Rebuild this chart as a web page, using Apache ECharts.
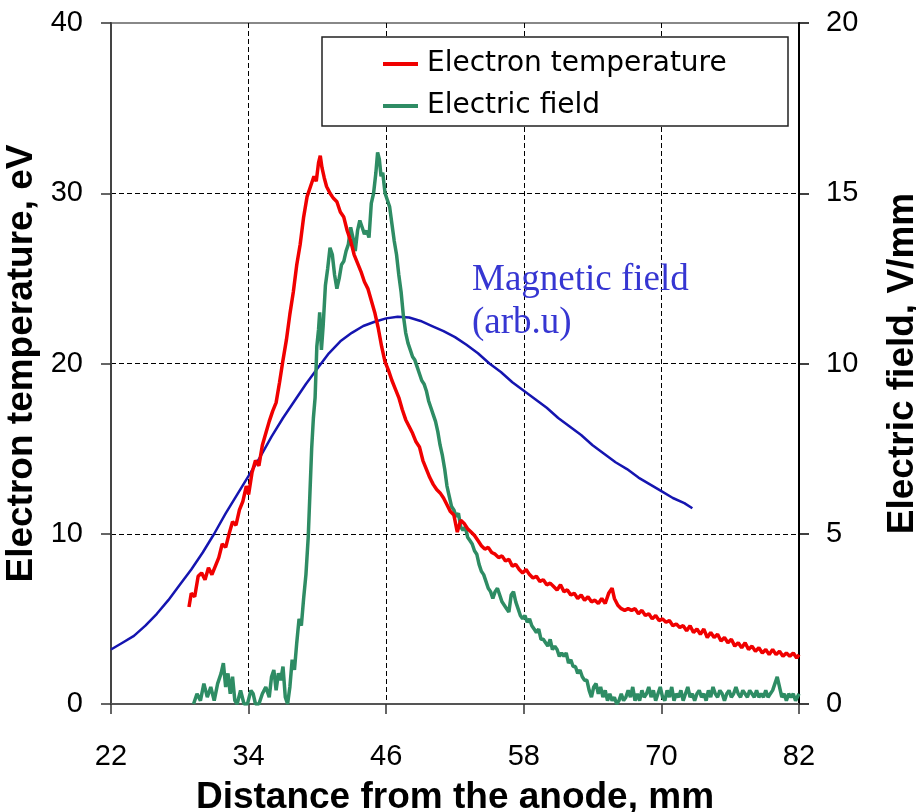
<!DOCTYPE html>
<html>
<head>
<meta charset="utf-8">
<script src="https://cdn.jsdelivr.net/npm/echarts@6/dist/echarts.min.js"></script>
<style>html,body{margin:0;padding:0;background:#fff}#c{width:916px;height:812px}</style>
</head>
<body>
<div id="c"></div>
<script>
// Axis ticks
var xTicks = [22, 34, 46, 58, 70, 82];
var leftTicks = [0, 10, 20, 30, 40];
var rightTicks = [0, 5, 10, 15, 20];

// Electron temperature (eV, left axis)
var tempX = [28.8,29.0,29.3,29.6,29.9,30.2,30.5,30.8,31.1,31.4,31.7,32.0,32.3,32.6,32.9,33.2,33.5,33.8,34.0,34.3,34.6,34.9,35.2,35.5,35.8,36.1,36.4,36.7,37.0,37.3,37.6,37.9,38.2,38.5,38.8,39.1,39.4,39.7,39.9,40.1,40.25,40.4,40.6,40.8,41.1,41.4,41.7,42.0,42.3,42.6,42.9,43.2,43.5,43.8,44.1,44.4,44.7,45.0,45.3,45.6,45.9,46.2,46.5,46.8,47.1,47.4,47.7,48.0,48.3,48.6,48.9,49.2,49.5,49.8,50.1,50.4,50.7,51.0,51.3,51.6,51.9,52.2,52.5,52.8,53.1,53.4,53.7,54.0,54.3,54.6,54.9,55.2,55.5,55.8,56.1,56.4,56.7,57.0,57.3,57.6,57.9,58.2,58.5,58.8,59.1,59.4,59.7,60.0,60.3,60.6,60.9,61.2,61.5,61.8,62.1,62.4,62.7,63.0,63.3,63.6,63.9,64.2,64.5,64.8,65.1,65.4,65.7,65.9,66.2,66.5,66.8,67.1,67.4,67.7,68.0,68.3,68.6,68.9,69.2,69.5,69.8,70.1,70.4,70.7,71.0,71.3,71.6,71.9,72.2,72.5,72.8,73.1,73.4,73.7,74.0,74.3,74.6,74.9,75.2,75.5,75.8,76.1,76.4,76.7,77.0,77.3,77.6,77.9,78.2,78.5,78.8,79.1,79.4,79.7,80.0,80.3,80.6,80.9,81.2,81.5,81.8,82.0];
var tempY = [5.7,6.5,6.3,7.5,7.7,7.3,8.0,7.6,8.1,8.6,9.4,9.2,10.0,10.7,10.5,11.4,11.9,12.8,12.3,13.6,14.3,14.0,15.2,15.9,16.6,17.2,17.7,18.9,20.2,21.4,22.9,24.2,25.8,27.0,28.6,29.8,30.4,31.0,30.7,31.8,32.2,31.5,30.9,30.4,30.0,29.7,29.5,28.9,28.6,27.8,27.2,26.4,25.9,25.4,24.8,24.4,23.7,23.0,22.1,21.0,20.1,19.6,19.0,18.5,18.0,17.3,16.7,16.3,15.9,15.4,15.1,14.3,13.8,13.3,12.9,12.6,12.4,12.1,11.7,11.3,11.1,10.1,10.8,10.6,10.3,10.1,9.9,9.6,9.3,9.1,9.2,8.9,8.8,8.6,8.7,8.4,8.5,8.1,8.2,7.9,7.7,7.9,7.6,7.4,7.5,7.2,7.3,7.0,7.1,6.9,6.7,7.0,6.6,6.7,6.4,6.5,6.2,6.4,6.1,6.3,6.0,6.1,5.9,6.2,5.9,6.5,6.8,6.2,5.8,5.6,5.5,5.6,5.5,5.6,5.3,5.5,5.2,5.3,5.0,5.2,4.9,5.0,4.8,4.9,4.6,4.7,4.5,4.6,4.3,4.6,4.2,4.4,4.1,4.4,3.9,4.2,3.9,4.1,3.7,3.9,3.6,3.8,3.4,3.6,3.3,3.6,3.2,3.4,3.1,3.3,3.0,3.2,2.9,3.2,2.9,3.1,2.8,3.0,2.8,3.0,2.7,2.9];

// Electric field (V/mm, right axis)
var fieldX = [29.2,29.5,29.8,30.1,30.4,30.7,31.0,31.3,31.6,31.8,32.0,32.2,32.4,32.6,32.8,33.0,33.3,33.6,33.9,34.2,34.4,34.6,34.9,35.2,35.5,35.8,36.0,36.2,36.4,36.6,36.8,37.0,37.2,37.4,37.6,37.8,38.0,38.2,38.4,38.6,38.8,39.0,39.2,39.35,39.5,39.65,39.8,39.95,40.1,40.2,40.35,40.5,40.7,40.9,41.1,41.3,41.5,41.7,41.9,42.1,42.3,42.5,42.7,42.9,43.1,43.3,43.5,43.7,43.9,44.1,44.3,44.5,44.7,44.9,45.1,45.25,45.4,45.55,45.7,45.9,46.1,46.3,46.5,46.7,46.9,47.1,47.3,47.5,47.7,47.9,48.1,48.3,48.5,48.7,48.9,49.1,49.3,49.5,49.7,49.9,50.1,50.3,50.5,50.7,50.9,51.1,51.3,51.5,51.7,51.9,52.1,52.3,52.5,52.7,52.9,53.1,53.3,53.5,53.7,53.9,54.1,54.3,54.5,54.7,54.9,55.1,55.3,55.5,55.7,55.9,56.1,56.3,56.5,56.7,56.9,57.1,57.3,57.5,57.7,57.9,58.1,58.3,58.5,58.7,58.9,59.1,59.3,59.5,59.7,59.9,60.1,60.3,60.5,60.7,60.9,61.1,61.3,61.5,61.7,61.9,62.1,62.3,62.5,62.7,62.9,63.1,63.3,63.5,63.7,63.9,64.1,64.3,64.5,64.7,64.9,65.1,65.3,65.5,65.7,65.9,66.1,66.3,66.5,66.7,66.9,67.1,67.3,67.5,67.7,67.9,68.1,68.3,68.5,68.7,68.9,69.1,69.3,69.5,69.7,69.9,70.1,70.3,70.5,70.7,70.9,71.1,71.3,71.5,71.7,71.9,72.1,72.3,72.5,72.7,72.9,73.1,73.3,73.5,73.7,73.9,74.1,74.3,74.5,74.7,74.9,75.1,75.3,75.5,75.7,75.9,76.1,76.3,76.5,76.7,76.9,77.1,77.3,77.5,77.7,77.9,78.1,78.3,78.5,78.7,78.9,79.1,79.3,79.5,79.7,79.9,80.1,80.3,80.5,80.7,80.9,81.1,81.3,81.5,81.7,82.0];
var fieldY = [0.0,0.3,0.1,0.6,0.2,0.5,0.1,0.6,0.9,1.2,0.5,0.9,0.3,0.8,0.1,0.0,0.4,0.0,0.0,0.4,0.3,0.0,0.0,0.3,0.5,0.2,0.8,1.0,0.4,0.9,0.7,1.1,0.2,0.0,0.5,1.3,1.0,1.8,2.5,2.3,3.1,3.8,4.9,6.2,7.5,8.4,9.0,10.5,11.0,11.5,10.4,11.1,12.3,12.8,13.4,13.2,12.6,12.2,12.5,12.9,13.0,13.3,13.5,14.0,13.7,13.3,13.9,14.2,14.0,13.8,13.9,13.7,14.7,15.0,15.6,16.2,16.0,15.5,15.6,15.0,14.8,14.6,14.1,13.6,13.2,12.6,12.1,11.4,10.9,10.6,10.4,10.2,10.1,9.9,9.7,9.5,9.4,9.2,8.9,8.7,8.5,8.3,8.0,7.6,7.3,6.9,6.4,6.1,5.8,5.7,5.5,5.6,5.2,5.1,5.2,4.9,4.8,4.7,4.5,4.4,4.1,3.9,3.8,3.6,3.4,3.3,3.1,3.3,3.4,3.2,3.0,2.9,2.8,2.7,3.2,3.3,3.0,2.8,2.6,2.5,2.6,2.4,2.5,2.3,2.2,2.1,2.2,1.9,1.9,1.8,1.7,1.9,1.6,1.7,1.6,1.4,1.5,1.4,1.5,1.2,1.3,1.1,1.1,0.9,1.0,0.8,0.7,0.7,0.4,0.2,0.5,0.6,0.3,0.5,0.2,0.4,0.1,0.3,0.1,0.2,0.0,0.1,0.3,0.1,0.2,0.4,0.2,0.5,0.1,0.3,0.1,0.4,0.2,0.3,0.5,0.2,0.4,0.1,0.3,0.5,0.2,0.1,0.4,0.2,0.5,0.1,0.3,0.2,0.4,0.1,0.3,0.5,0.2,0.3,0.1,0.3,0.4,0.2,0.3,0.1,0.4,0.2,0.5,0.3,0.2,0.4,0.3,0.1,0.3,0.4,0.2,0.3,0.5,0.3,0.2,0.4,0.3,0.2,0.4,0.3,0.2,0.4,0.2,0.3,0.2,0.4,0.2,0.3,0.4,0.6,0.8,0.5,0.2,0.3,0.1,0.3,0.2,0.3,0.1,0.3];

// Magnetic field (arb. units, drawn on left axis scale)
var magX = [22,23,24,25,26,27,28,29,30,31,32,33,34,35,36,37,38,39,40,41,42,43,44,45,46,47,48,49,50,51,52,53,54,55,56,57,58,59,60,61,62,63,64,65,66,67,68,69,70,71,72,72.7];
var magY = [3.2,3.6,4.0,4.6,5.3,6.1,7.0,7.9,8.9,10.0,11.2,12.3,13.4,14.5,15.7,16.8,17.8,18.8,19.7,20.6,21.3,21.8,22.2,22.45,22.65,22.75,22.7,22.5,22.2,21.9,21.55,21.1,20.6,20.0,19.5,18.9,18.4,17.9,17.4,16.8,16.3,15.8,15.2,14.7,14.2,13.8,13.3,12.9,12.5,12.1,11.8,11.5];

var seriesNames = ['Electron temperature', 'Electric field', 'Magnetic field'];
var magLabel = 'Magnetic field\n(arb.u)';
var xName = 'Distance from the anode, mm';
var yLeftName = 'Electron temperature, eV';
var yRightName = 'Electric field, V/mm';

function zip(a, b) { return a.map(function (v, i) { return [v, b[i]]; }); }

var chart = echarts.init(document.getElementById('c'), null, {renderer: 'canvas'});
var tickFont = {fontFamily: '"Liberation Sans", Arial, sans-serif', fontSize: 29, color: '#000'};
var titleFont = {fontFamily: '"Liberation Sans", Arial, sans-serif', fontSize: 37, fontWeight: 'bold', color: '#000'};
var dashed = {show: true, showMinLine: false, showMaxLine: false, lineStyle: {color: '#000', width: 1, type: [5, 3]}};

chart.setOption({
  animation: false,
  backgroundColor: '#fff',
  grid: {left: 111, right: 117, top: 23, bottom: 108, show: true, borderColor: '#888', borderWidth: 2, backgroundColor: 'transparent', outerBoundsMode: 'none'},
  legend: {
    data: [seriesNames[0], seriesNames[1]],
    orient: 'vertical', left: 383, top: 50, itemGap: 14, z: 6, padding: 0,
    icon: 'rect', itemWidth: 35, itemHeight: 4,
    textStyle: {fontFamily: '"DejaVu Sans", sans-serif', fontSize: 28, color: '#000', padding: [0, 0, 0, 4]}
  },
  graphic: [
    {type: 'rect', z: 5, shape: {x: 322, y: 37, width: 466, height: 89}, style: {fill: '#fff', stroke: '#222', lineWidth: 1.5}},
    {type: 'text', z: 5, left: 472, top: 259, style: {text: magLabel, font: '37px "Liberation Serif", "Times New Roman", serif', fill: '#3636d2', lineHeight: 43}}
  ],
  xAxis: {
    type: 'value', min: xTicks[0], max: xTicks[xTicks.length - 1], interval: xTicks[1] - xTicks[0],
    name: xName, nameLocation: 'middle', nameGap: 75, nameTextStyle: titleFont,
    axisLine: {lineStyle: {color: '#555', width: 2}},
    axisTick: {show: true, inside: false, length: 10, lineStyle: {color: '#333', width: 1.5}},
    axisLabel: Object.assign({margin: 38}, tickFont),
    splitLine: dashed
  },
  yAxis: [
    {
      type: 'value', position: 'left', min: leftTicks[0], max: leftTicks[leftTicks.length - 1], interval: leftTicks[1] - leftTicks[0],
      name: yLeftName, nameLocation: 'middle', nameRotate: 90, nameGap: 60, nameTextStyle: titleFont,
      axisLine: {show: true, lineStyle: {color: '#444', width: 2}},
      axisTick: {show: true, inside: false, length: 10, lineStyle: {color: '#333', width: 1.5}},
      axisLabel: Object.assign({margin: 28}, tickFont),
      splitLine: dashed
    },
    {
      type: 'value', position: 'right', min: rightTicks[0], max: rightTicks[rightTicks.length - 1], interval: rightTicks[1] - rightTicks[0],
      name: yRightName, nameLocation: 'middle', nameRotate: 90, nameGap: 85, nameTextStyle: titleFont,
      axisLine: {show: true, lineStyle: {color: '#000', width: 2}},
      axisTick: {show: true, inside: false, length: 10, lineStyle: {color: '#000', width: 1.5}},
      axisLabel: Object.assign({margin: 27}, tickFont),
      splitLine: {show: false}
    }
  ],
  series: [
    {name: seriesNames[2], type: 'line', yAxisIndex: 0, data: zip(magX, magY), showSymbol: false, symbol: 'none', lineStyle: {color: '#1515b0', width: 2.5}, itemStyle: {color: '#1515b0'}, z: 2},
    {name: seriesNames[1], type: 'line', yAxisIndex: 1, data: zip(fieldX, fieldY), showSymbol: false, symbol: 'none', lineStyle: {color: '#2e8c64', width: 3.5}, itemStyle: {color: '#2e8c64'}, z: 3},
    {name: seriesNames[0], type: 'line', yAxisIndex: 0, data: zip(tempX, tempY), showSymbol: false, symbol: 'none', lineStyle: {color: '#f00000', width: 3.5}, itemStyle: {color: '#f00000'}, z: 4}
  ]
});
</script>
</body>
</html>
